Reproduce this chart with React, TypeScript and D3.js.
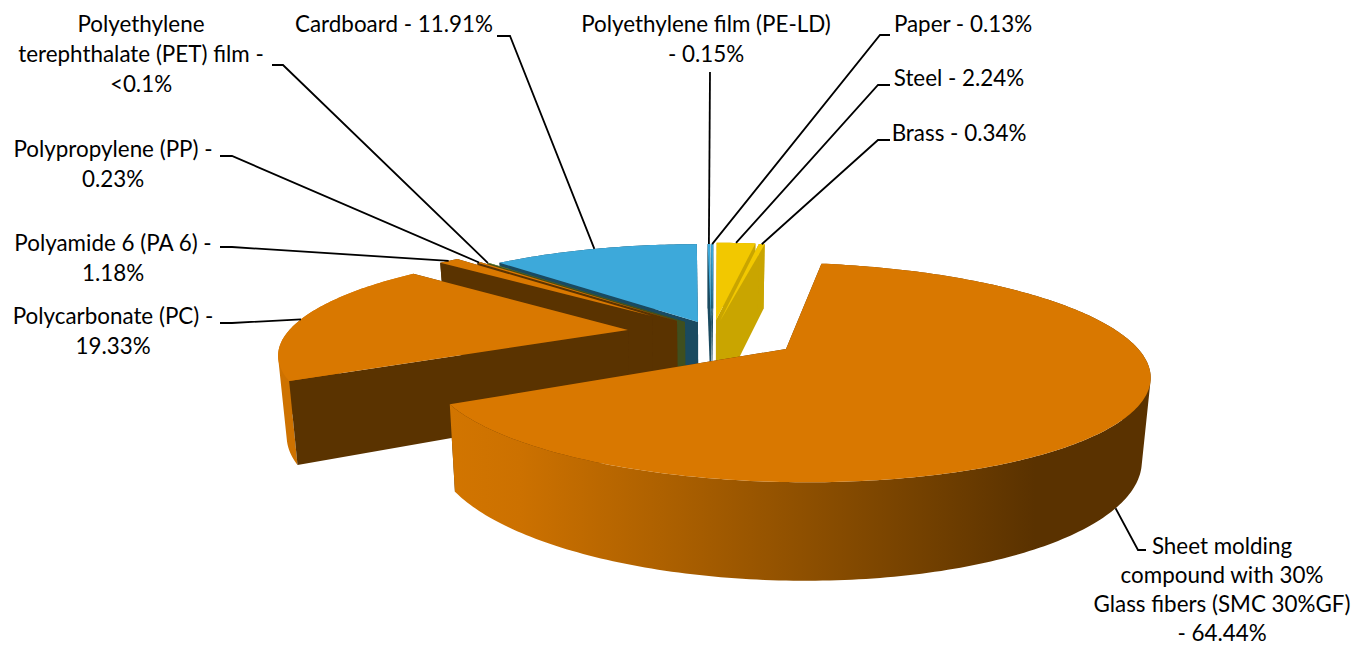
import * as d3 from "d3";

const WIDTH = 1361;
const HEIGHT = 646;

// clockwise from 12 o'clock, same order as the source pie
const materials = [
  "PE-LD", "Paper", "Steel", "Brass", "SMC 30%GF",
  "PC", "PA 6", "PP", "PET", "Cardboard",
];
const shares = [0.15, 0.13, 2.24, 0.34, 64.44, 19.33, 1.18, 0.23, 0.05, 11.91];

const labelLines = [
  ["Polyethylene film (PE-LD)", "- 0.15%"],
  ["Paper - 0.13%"],
  ["Steel - 2.24%"],
  ["Brass - 0.34%"],
  ["Sheet molding", "compound with 30%", "Glass fibers (SMC 30%GF)", "- 64.44%"],
  ["Polycarbonate (PC) -", "19.33%"],
  ["Polyamide 6 (PA 6) -", "1.18%"],
  ["Polypropylene (PP) -", "0.23%"],
  ["Polyethylene", "terephthalate (PET) film -", "<0.1%"],
  ["Cardboard - 11.91%"],
];

// layout, same order as materials
const labelCentre = [
  [706, 32], [963, 32], [959, 86], [959, 141], [1222, 554],
  [113, 324], [113, 251], [113, 157], [141, 32], [394, 32],
];
const leaderElbows = [
  [[710, 72]],
  [[890, 35], [880, 35]],
  [[890, 85], [878, 85]],
  [[890, 140], [878, 140]],
  [[1146, 550], [1138, 550]],
  [[220, 323], [232, 323]],
  [[220, 247], [232, 247]],
  [[220, 156], [232, 156]],
  [[272, 65], [283, 65]],
  [[497, 36], [510, 36]],
];
// where each exploded slice's tip lands on screen
const tips = [
  [711, 322], [712, 322], [716, 320], [720, 321], [786, 349],
  [628, 330], [652, 316], [677, 321], [685, 322], [698, 322],
];
const topColor = [
  "#3DA9DA", "#3DA9DA", "#F2C800", "#F2C800", "#D97800",
  "#D97800", "#D97800", "#D97800", "#6E8C2E", "#3DA9DA",
];
const wallColor = [
  "#1A4A60", "#1A4A60", "#C9A500", "#C9A500", "#5A3300",
  "#5A3300", "#5A3300", "#5A3300", "#3F4F1E", "#1A4A60",
];
const paintOrder = [1, 0, 2, 3, 9, 8, 7, 6, 5, 4];

const rotation = (-0.6 * Math.PI) / 180;
const cx = 708;
const cy = 318;
const radiusX = 330;
const radiusY = 92;
const depthK = 0.2;
const thickness = 75;
const bottomScale = 0.98;

const sx = d3.scaleLinear().domain([-1, 1]).range([cx - radiusX, cx + radiusX]);
const sy = d3.scaleLinear().domain([-1, 1]).range([cy + radiusY, cy - radiusY]);

const arcs = d3
  .pie<number>()
  .value((d) => d)
  .sort(null)
  .startAngle(rotation)
  .endAngle(rotation + 2 * Math.PI)(shares);

// disk coordinates of a slice tip, undoing the perspective divide
const tipDisk = tips.map(([px, py]) => {
  const u = sx.invert(px);
  const v = sy.invert(py);
  const w = 1 / (1 - depthK * v);
  return [u * w, v * w];
});

type Pt = [number, number];

const project = (X: number, Y: number, low: boolean): Pt => {
  const w = 1 + depthK * Y;
  const x = sx(X / w);
  const y = sy(Y / w);
  if (!low) return [x, y];
  return [cx + (x - cx) * bottomScale, cy + (y - cy) * bottomScale + thickness / w];
};

const rimPoint = (i: number, angle: number, low: boolean) =>
  project(tipDisk[i][0] + Math.sin(angle), tipDisk[i][1] + Math.cos(angle), low);
const tipPoint = (i: number, low: boolean) => project(tipDisk[i][0], tipDisk[i][1], low);

const rim = (i: number, low: boolean) => {
  const { startAngle, endAngle } = arcs[i];
  const n = Math.max(2, Math.ceil((endAngle - startAngle) * 60));
  return d3.range(n + 1).map((k) => rimPoint(i, startAngle + ((endAngle - startAngle) * k) / n, low));
};

const line = d3.line<Pt>();
const closed = (pts: Pt[]) => line(pts) + "Z";

// the rim wall as one quad per rim segment, all wound the same way, so the
// silhouette at the far left and right of the ellipse stays filled
const rimWall = (topRim: Pt[], lowRim: Pt[]) =>
  d3.pairs(d3.range(topRim.length)).map(([a, b]) => {
    const quad: Pt[] = [topRim[a], topRim[b], lowRim[b], lowRim[a]];
    return closed((d3.polygonArea(quad) < 0 ? quad.reverse() : quad));
  }).join("");

const wallGradient = d3
  .scaleLinear<string>()
  .domain([450, 520, 800, 1035, 1150])
  .range(["#D27500", "#CC7100", "#8F5000", "#5A3200", "#5A3200"]);
const gradientStops = [450, 520, 660, 800, 920, 1035, 1150];

function Slice({ i }: { i: number }) {
  const topRim = rim(i, false);
  const lowRim = rim(i, true);
  const a = arcs[i];
  const radial = (angle: number) =>
    closed([tipPoint(i, false), rimPoint(i, angle, false), rimPoint(i, angle, true), tipPoint(i, true)]);
  const outerFill = i === 4 ? "url(#smcWall)" : i === 5 ? "#CE7200" : wallColor[i];
  return (
    <g>
      <path d={radial(a.endAngle)} fill={wallColor[i]} />
      <path d={rimWall(topRim, lowRim)} fill={outerFill} />
      <path d={radial(a.startAngle)} fill={wallColor[i]} />
      <path d={closed([tipPoint(i, false), ...topRim])} fill={topColor[i]} />
    </g>
  );
}

function Leader({ i }: { i: number }) {
  const a = arcs[i];
  const mid = (a.startAngle + a.endAngle) / 2;
  const end = rimPoint(i, mid, i === 4);
  const pts = [...leaderElbows[i], end] as Pt[];
  return <path d={line(pts) ?? ""} fill="none" stroke="#000" strokeWidth={1.8} />;
}

function Label({ i }: { i: number }) {
  const [x, y] = labelCentre[i];
  const gap = i === 4 ? 29 : 30; // last SMC line sits right on the bottom edge
  return (
    <text x={x} y={y} textAnchor="middle" fontFamily="Lato, 'Open Sans', sans-serif" fontSize={22.4} fill="#000">
      {labelLines[i].map((t, k) => (
        <tspan key={t} x={x} y={y + k * gap}>
          {t}
        </tspan>
      ))}
    </text>
  );
}

export default function App() {
  return (
    <svg
      width={WIDTH}
      height={HEIGHT}
      viewBox={`0 0 ${WIDTH} ${HEIGHT}`}
      style={{ position: "absolute", left: 0, top: 0, background: "#fff" }}
    >
      <defs>
        <linearGradient id="smcWall" gradientUnits="userSpaceOnUse" x1={450} x2={1150} y1={0} y2={0}>
          {gradientStops.map((x) => (
            <stop key={x} offset={(x - 450) / 700} stopColor={wallGradient(x)} />
          ))}
        </linearGradient>
      </defs>
      {paintOrder.map((i) => (
        <Slice key={materials[i]} i={i} />
      ))}
      {materials.map((m, i) => (
        <Leader key={m} i={i} />
      ))}
      {materials.map((m, i) => (
        <Label key={m} i={i} />
      ))}
    </svg>
  );
}
